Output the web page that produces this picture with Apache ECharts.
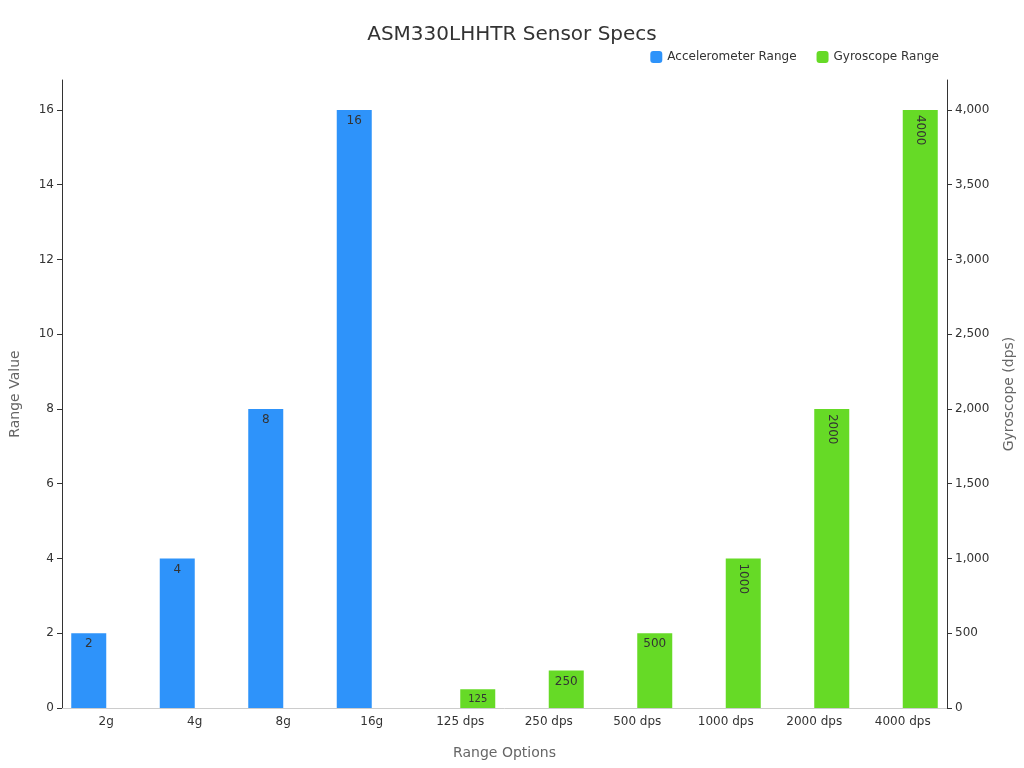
<!DOCTYPE html>
<html><head><meta charset="utf-8">
<script src="https://cdn.jsdelivr.net/npm/echarts@6/dist/echarts.min.js"></script>
<style>html,body{margin:0;padding:0}#c{width:1024px;height:768px}</style>
</head><body><div id="c"></div>
<script>
var categories = ['2g','4g','8g','16g','125 dps','250 dps','500 dps','1000 dps','2000 dps','4000 dps'];
var accel = [2,4,8,16,null,null,null,null,null,null];
var gyro = [null,null,null,null,125,250,500,1000,2000,4000];
var chart = echarts.init(document.getElementById('c'));
var lab = {show:true, position:'insideTop', color:'#333', fontSize:12};
var gyroData = gyro.map(function(v){
  if (v === null) return null;
  var o = {value:v};
  if (v >= 1000) o.label = {rotate:-90, position:'insideTop', align:'left', verticalAlign:'middle', offset:[0,0]};
  if (v === 125) o.label = {fontSize:10};
  return o;
});
chart.setOption({
  title:{text:'ASM330LHHTR Sensor Specs', left:'center', top:20, textStyle:{fontSize:20, fontWeight:'normal', color:'#333', fontFamily:'DejaVu Sans'}},
  legend:{top:46, right:80, itemWidth:12, itemHeight:12, itemGap:20, textStyle:{fontSize:12, color:'#333'}, data:['Accelerometer Range','Gyroscope Range']},
  textStyle:{fontFamily:'DejaVu Sans'},
  grid:{left:60, right:77, top:80, bottom:60},
  xAxis:{type:'category', data:categories, name:'Range Options', nameLocation:'middle', nameGap:38, nameTextStyle:{fontSize:14,color:'#666'},
    axisTick:{show:false}, axisLine:{lineStyle:{color:'#ccc'}}, axisLabel:{color:'#333', fontSize:12}},
  yAxis:[
    {type:'value', min:0, max:16.8, interval:2, name:'Range Value', nameLocation:'middle', nameGap:40, nameTextStyle:{fontSize:14,color:'#666'},
     axisLine:{show:true, lineStyle:{color:'#333'}}, axisTick:{show:true}, splitLine:{show:false}, axisLabel:{showMaxLabel:false, color:'#333'}},
    {type:'value', min:0, max:4200, interval:500, name:'Gyroscope (dps)', nameLocation:'middle', nameGap:55, nameTextStyle:{fontSize:14,color:'#666'},
     axisLine:{show:true, lineStyle:{color:'#333'}}, axisTick:{show:true}, splitLine:{show:false}, axisLabel:{showMaxLabel:false, color:'#333'}}
  ],
  series:[
    {name:'Accelerometer Range', type:'bar', data:accel, barWidth:35, barGap:'0%', itemStyle:{color:'#2E93FA'}, label:lab},
    {name:'Gyroscope Range', type:'bar', yAxisIndex:1, data:gyroData, barWidth:35, itemStyle:{color:'#66DA26'}, label:lab}
  ]
});
</script></body></html>
